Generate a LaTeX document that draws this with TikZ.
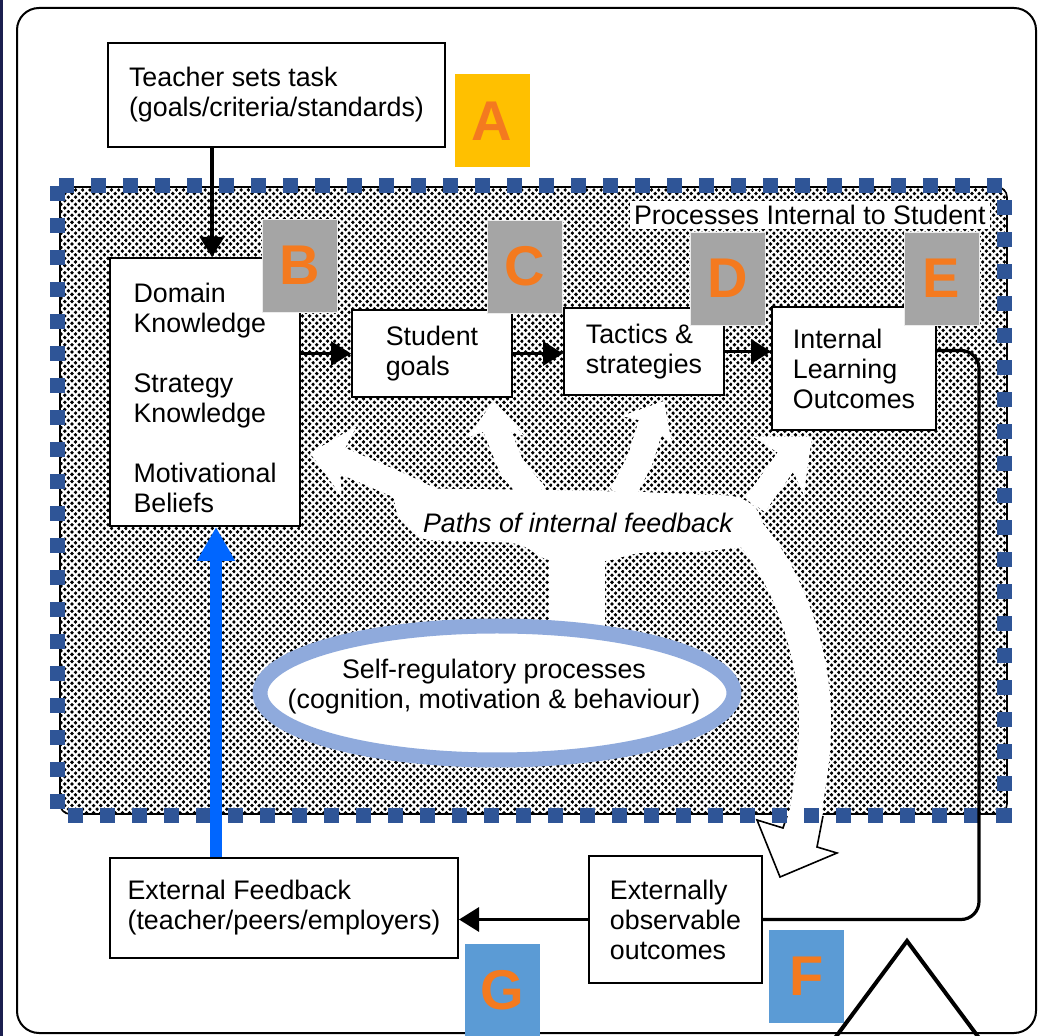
\documentclass[tikz,border=0pt]{standalone}
\usepackage{fontspec}
\setmainfont{Liberation Sans}
\usepackage{tikz}
\usetikzlibrary{arrows.meta}
\usetikzlibrary{patterns}

\definecolor{dashblue}{HTML}{2F5597}
\definecolor{ringblue}{HTML}{8FAADC}
\definecolor{fbblue}{HTML}{0066FF}
\definecolor{tagyellow}{HTML}{FFC000}
\definecolor{taggray}{HTML}{A5A5A5}
\definecolor{tagblue}{HTML}{5B9BD5}
\definecolor{tagorange}{HTML}{F47A1F}
\definecolor{navy}{HTML}{1B1F4F}

\pgfdeclarepatternformonly{halftone}{\pgfqpoint{-1.1pt}{-1.1pt}}{\pgfqpoint{2.5pt}{2.5pt}}{\pgfqpoint{3.6pt}{3.6pt}}{%
  \pgfpathcircle{\pgfqpoint{0pt}{0pt}}{0.95pt}%
  \pgfpathcircle{\pgfqpoint{1.8pt}{1.8pt}}{0.95pt}%
  \pgfusepath{fill}}

\begin{document}
\begin{tikzpicture}[x=0.5pt,y=-0.5pt,>={Triangle[length=10pt,width=12pt]},font=\fontsize{13.4}{15}\selectfont]
      \tikzstyle{box} = [draw, line width=1pt, fill=white, align=left, inner sep=0pt]
      \tikzstyle{tag} = [minimum width=37.5pt, minimum height=46.5pt, inner sep=0pt, text=tagorange,
         font=\fontsize{28}{28}\selectfont\bfseries]
      \tikzstyle{line} = [draw, line width=1.6pt, ->]
      \tikzstyle{hole} = [white, line width=13pt, line join=round]
      \useasboundingbox (0,0) rectangle (1039,1036);
      %frame
      \fill[white] (0,0) rectangle (1039,1036);
      \fill[navy] (0,0) rectangle (3,1036);
      \draw[line width=1pt, rounded corners=11pt] (17,8) rectangle (1036,1033);
      %student area
      \path[fill=white, rounded corners=5pt] (60,187) rectangle (1007,814);
      \path[pattern=halftone, draw, line width=0.8pt, rounded corners=5pt] (60,187) rectangle (1007,814);
      %paths of internal feedback
      \fill[white, rounded corners=6pt] (395,488) -- (545,490) -- (640,492) -- (740,496) -- (762,512) -- (760,545)
         -- (700,552) -- (640,552) -- (605,562) -- (548,562) -- (520,543) -- (420,540) -- (395,515) -- cycle;
      \draw[hole] (338,459) -- (405,488) -- (440,505);
      \draw[hole] (495,426) -- (512,468) -- (535,495);
      \draw[hole] (652,422) -- (640,460) -- (622,495);
      \draw[hole, line width=12pt] (789,457) -- (755,505);
      \draw[hole, line width=28pt] (577,540) -- (577,632);
      \draw[hole, line width=16pt] (735,518) .. controls (778,555) and (815,640) .. (815,720)
         .. controls (815,765) and (808,790) .. (805,818);
      \fill[white, shift={(310,453)}, rotate=168] (0pt,0pt) -- (-20pt,18pt) -- (-15pt,0pt) -- (-20pt,-18pt) -- cycle;
      \fill[white, shift={(494,401)}, rotate=92] (0pt,0pt) -- (-18pt,14.5pt) -- (-13.5pt,0pt) -- (-18pt,-14.5pt) -- cycle;
      \fill[white, shift={(664,401)}, rotate=60] (0pt,0pt) -- (-17pt,14.5pt) -- (-12.8pt,0pt) -- (-17pt,-14.5pt) -- cycle;
      \fill[white, shift={(812,437)}, rotate=41] (0pt,0pt) -- (-22pt,19pt) -- (-16.5pt,0pt) -- (-22pt,-19pt) -- cycle;
      \fill[white] (787,812) -- (783,828) -- (757,820) -- (780,877) -- (837,853) -- (817,847) -- (823,812) -- cycle;
      \draw[line width=0.8pt] (787,816) -- (783,828) -- (757,820) -- (780,877) -- (837,853) -- (817,847) -- (823,816);
      \draw[ringblue, line width=7.5pt, fill=white] (497,693) ellipse [x radius=237, y radius=67];
      %texts
      \node (paths) at (578,523) {\itshape Paths of internal feedback};
      \node[fill=white, inner sep=2pt, anchor=east] (internal) at (990,215) {Processes Internal to Student};
      \node[align=center] (selfreg) at (494,687) {Self-regulatory processes\\(cognition, motivation \& behaviour)};
      %nodes
      \node[box, minimum width=168.5pt, minimum height=52pt] (task) at (276.5,95) {Teacher sets task\\(goals/criteria/standards)};
      \node[box, minimum width=95pt, minimum height=134pt] (domain) at (205,392)
         {\rule{0pt}{16pt}Domain\\Knowledge\\[15pt]Strategy\\Knowledge\\[15pt]Motivational\\Beliefs};
      \node[box, minimum width=80pt, minimum height=43.5pt] (goals) at (432,353.5) {Student\\goals};
      \node[box, minimum width=80pt, minimum height=43.5pt] (tactics) at (644,351.5) {Tactics \&\\strategies};
      \node[box, minimum width=82pt, minimum height=61.5pt] (outcomes) at (854,368.5) {Internal\\Learning\\Outcomes};
      \node[box, minimum width=86.5pt, minimum height=63.5pt] (observable) at (675.5,919.5) {Externally\\observable\\outcomes};
      \node[box, minimum width=174pt, minimum height=50pt] (external) at (284,908) {External Feedback\\(teacher/peers/employers)};
      \draw[dashblue, line width=7.5pt, dash pattern=on 7.5pt off 8.5pt] (57.5,186) rectangle (1004,815.5);
      %lines
      \coordinate (taskdrop) at (212,0);
      \coordinate (bend) at (979,600);
      \coordinate (blueup) at (216,0);
      \path [line] (task.south -| taskdrop) -- (domain.north -| taskdrop);
      \path [line] (goals.west -| domain.east) -- (goals.west);
      \path [line] (goals.east) -- (goals.east -| tactics.west);
      \path [line] (tactics.east) -- (tactics.east -| outcomes.west);
      \draw [line width=1.6pt, rounded corners=9pt] ([yshift=9pt]outcomes.east) -| (bend) |- (observable.east);
      \path [line] (observable.west) -- (observable.west -| external.east);
      \draw [fbblue, line width=6pt, -{Triangle[length=17pt,width=18pt]}] (external.north -| blueup) -- (domain.south -| blueup);
      %letters
      \node[tag, fill=tagyellow] (tagA) at (492,121) {A};
      \node[tag, fill=taggray, draw=white!85!gray, thin] (tagB) at (300,265.5) {B};
      \node[tag, fill=taggray, draw=white!85!gray, thin] (tagC) at (525,266.5) {C};
      \node[tag, fill=taggray, draw=white!85!gray, thin] (tagD) at (727.5,278.5) {D};
      \node[tag, fill=taggray, draw=white!85!gray, thin] (tagE) at (941.5,278.5) {E};
      \node[tag, fill=tagblue] (tagF) at (806.5,976.5) {F};
      \node[tag, fill=tagblue] (tagG) at (502.5,990) {G};
      \draw[line width=2pt] (832,1042) -- (907,941) -- (982,1042);
\end{tikzpicture}
\end{document}
